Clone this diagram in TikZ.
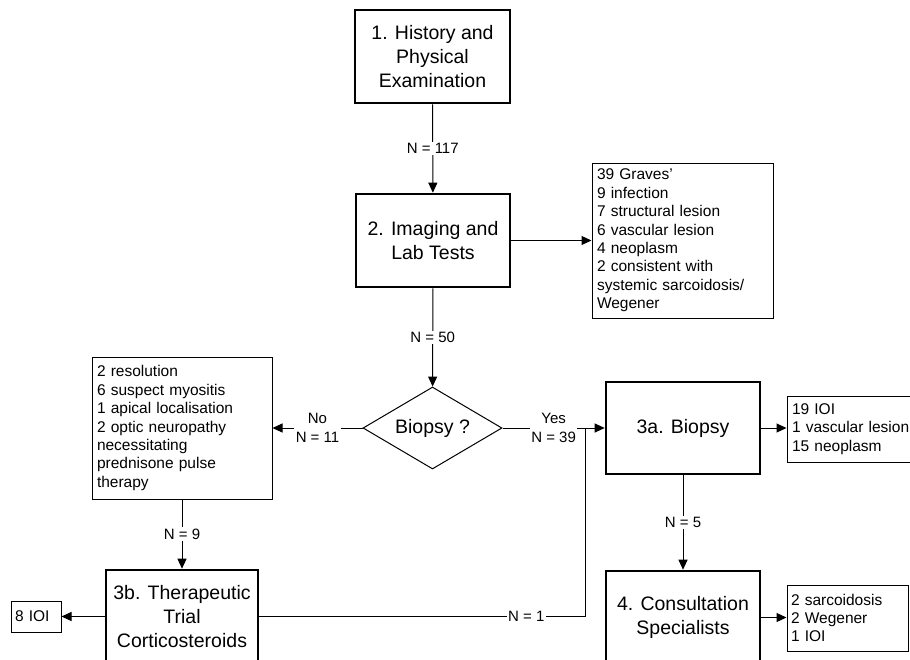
\documentclass[tikz,border=0pt]{standalone}
\usepackage{fontspec}
\setmainfont{Liberation Sans}
\usetikzlibrary{arrows.meta,shapes.geometric}
\begin{document}
\begin{tikzpicture}[x=1pt,y=-1pt,
  bigbox/.style={draw, line width=2.6pt, minimum width=154pt, minimum height=93pt, align=center, inner sep=0pt, font=\fontsize{19.5}{24}\selectfont},
  listbox/.style={draw, line width=1pt, inner xsep=5pt, inner ysep=0pt, align=left, font=\fontsize{15.5}{18.4}\selectfont},
  lbl/.style={fill=white, inner sep=1.5pt, font=\fontsize{15}{19}\selectfont, align=center},
  conn/.style={line width=1pt},
  arr/.style={conn, -{Triangle[length=10pt,width=9pt]}},
]
\useasboundingbox (0,0) rectangle (910,659);
\clip (0,0) rectangle (910,659);

% main boxes
\node[bigbox, minimum width=155pt] (b1) at (432.5,56.5) {1. History and\\Physical\\Examination};
\node[bigbox] (b2) at (433,240.5) {2. Imaging and\\Lab Tests};
\node[draw, diamond, line width=1pt, minimum width=139pt, minimum height=82pt, inner sep=0pt, aspect=1.7, font=\fontsize{19.5}{24}\selectfont] (dia) at (432.5,428) {Biopsy ?};
\node[bigbox, minimum height=92pt] (b3a) at (683,428) {3a. Biopsy};
\node[bigbox, minimum width=152pt] (b3b) at (182,616.5) {3b. Therapeutic\\Trial\\Corticosteroids};
\node[bigbox] (b4) at (683,617.5) {4. Consultation\\Specialists};

% lists
\node[listbox, minimum width=181pt, minimum height=155pt, text width=171pt] (list1) at (682.5,240.5)
  {39 Graves’\\9 infection\\7 structural lesion\\6 vascular lesion\\4 neoplasm\\2 consistent with\\systemic sarcoidosis/\\Wegener};
\node[listbox, minimum width=180pt, minimum height=142pt, text width=170pt] (llist) at (182,428)
  {2 resolution\\6 suspect myositis\\1 apical localisation\\2 optic neuropathy\\necessitating\\prednisone pulse\\therapy};
\node[listbox, minimum width=130pt, minimum height=66pt, text width=120pt] (list3a) at (852,429)
  {19 IOI\\1 vascular lesion\\15 neoplasm};
\node[listbox, inner xsep=4pt, minimum width=121pt, minimum height=66pt, text width=113pt] (list4) at (847.5,618)
  {2 sarcoidosis\\2 Wegener\\1 IOI};
\node[listbox, inner xsep=4pt, minimum width=50pt, minimum height=31pt, text width=42pt] (ioi) at (36,616.5)
  {8 IOI};

% connectors
\coordinate (j) at (585,428);
\draw[arr] (b1) -- node[lbl]{N = 117} (b2);
\draw[arr] (b2.east) -- (b2.east -| list1.west);
\draw[arr] (b2) -- node[lbl]{N = 50} (dia);
\draw[arr] (dia.west) -- node[lbl]{No\\N = 11} (dia.west -| llist.east);
\draw[arr] (dia.east) -- node[lbl]{Yes\\N = 39} (dia.east -| b3a.west);
\draw[arr] (llist) -- node[lbl]{N = 9} (b3b);
\draw[arr] (b3a.south) -- node[lbl]{N = 5} (b3a.south |- b4.north);
\draw[arr] (b3a.east) -- (b3a.east -| list3a.west);
\draw[arr] (b3b.west) -- (b3b.west -| ioi.east);
\draw[arr] (b4.east) -- (b4.east -| list4.west);
\draw[conn] (b3b.east) -- node[lbl, pos=0.82]{N = 1} (b3b.east -| j) -- (j);
\end{tikzpicture}
\end{document}
